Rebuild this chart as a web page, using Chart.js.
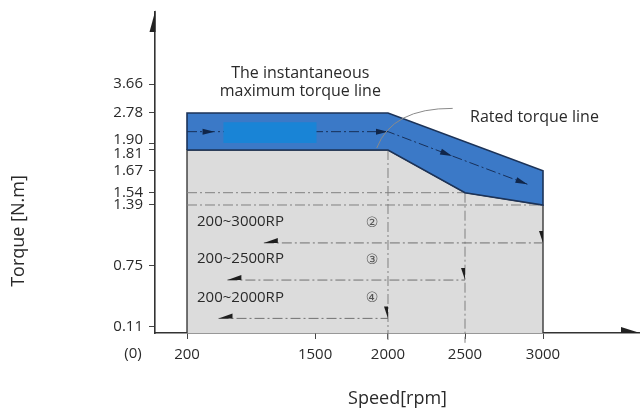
<!DOCTYPE html>
<html>
<head>
<meta charset="utf-8">
<script src="https://cdn.jsdelivr.net/npm/chart.js@4.4.1/dist/chart.umd.min.js"></script>
<style>
  html, body { margin: 0; padding: 0; background: #fff; }
</style>
</head>
<body>
<canvas id="torqueChart" width="640" height="412"></canvas>
<script>
// axis tick labels
const speedTicks = [200, 1500, 2000, 2500, 3000];
const torqueTicks = [0.11, 0.75, 1.39, 1.54, 1.67, 1.81, 1.90, 2.78, 3.66];

// rated torque line (continuous operating area)
const ratedSpeed = [200, 200, 2000, 2500, 3000, 3000];
const ratedTorque = [0, 1.81, 1.81, 1.54, 1.39, 0];

// instantaneous maximum torque line
const peakSpeed = [200, 200, 2000, 3000, 3000];
const peakTorque = [1.81, 2.78, 2.78, 1.67, 1.39];

// flow arrow inside the instantaneous band
const flowSpeed = [200, 480, 2000, 2416, 2900];
const flowTorque = [2.25, 2.25, 2.25, 1.77, 1.59];

// light blue patch over the band
const patchSpeed = [570, 1510];
const patchTorque = [1.93, 2.52];

// speed ranges (arrows run back from the curve)
const rangeTorque = [0.99, 0.6, 0.2];
const rangeStart = [980, 610, 520];
const rangeEnd = [3000, 2500, 2000];
const rangeLabels = ['200~3000RP', '200~2500RP', '200~2000RP'];
const rangeMarks = ['②', '③', '④'];

// the axes are drawn schematic, not to scale: value -> fraction of axis length
const scaleKnots = {
  x: [[0, 0], [200, 0.066], [1500, 0.33], [2000, 0.4804], [2500, 0.6392], [3000, 0.8], [3620, 1]],
  y: [[0, 0], [0.11, 0.0187], [0.75, 0.2097], [1.39, 0.3988], [1.54, 0.4371], [1.67, 0.5056],
      [1.81, 0.5701], [1.90, 0.5888], [2.78, 0.6854], [3.66, 0.7757], [5.84, 1]]
};

function piecewise(pairs, v, from, to) {
  let i = 1;
  while (i < pairs.length - 1 && v > pairs[i][from]) i++;
  const a = pairs[i - 1], b = pairs[i];
  return a[to] + (v - a[from]) * (b[to] - a[to]) / (b[from] - a[from]);
}

class KnotScale extends Chart.LinearScale {
  getPixelForValue(value) {
    if (value === null || isNaN(value)) return NaN;
    return this.getPixelForDecimal(piecewise(scaleKnots[this.id], value, 0, 1));
  }
  getValueForPixel(pixel) {
    return piecewise(scaleKnots[this.id], this.getDecimalForPixel(pixel), 1, 0);
  }
}
KnotScale.id = 'knot';
Chart.register(KnotScale);

const family = '"Open Sans", "Noto Sans", sans-serif';
const ink = '#2a2a2a';
const dashDot = [10, 3, 2, 3];

const pts = (xs, ys) => xs.map((x, i) => ({ x, y: ys[i] }));

const bandSpeed = peakSpeed.concat(ratedSpeed.slice(1, 5).reverse(), [peakSpeed[0]]);
const bandTorque = peakTorque.concat(ratedTorque.slice(1, 5).reverse(), [peakTorque[0]]);

function drawHead(ctx, x, y, ang, len, wid, side, color) {
  ctx.save();
  ctx.translate(x, y);
  ctx.rotate(ang);
  ctx.beginPath();
  ctx.moveTo(0, 0);
  if (side === 0) {
    ctx.lineTo(-len, wid / 2);
    ctx.lineTo(-len, -wid / 2);
  } else {
    ctx.lineTo(-len, 0);
    ctx.lineTo(-len, side * wid);
  }
  ctx.closePath();
  ctx.fillStyle = color;
  ctx.fill();
  ctx.restore();
}

const arrowHeads = {
  id: 'arrowHeads',
  afterDatasetsDraw(chart) {
    const ctx = chart.ctx;
    chart.data.datasets.forEach((ds, i) => {
      if (!ds.arrows) return;
      const p = chart.getDatasetMeta(i).data;
      ds.arrows.forEach(a => {
        const pt = p[a.at];
        let ang = a.angle;
        if (ang === undefined) {
          const q = p[a.at - 1];
          ang = Math.atan2(pt.y - q.y, pt.x - q.x);
        }
        drawHead(ctx, pt.x, pt.y, ang, a.len, a.wid, a.side, ds.headColor);
      });
    });
    const area = chart.chartArea;
    drawHead(ctx, area.left + 0.5, area.top - 2, -Math.PI / 2, 22, 6, -1, '#222');
    drawHead(ctx, area.right, area.bottom, 0, 19, 6, -1, '#222');
  }
};

const notes = {
  id: 'notes',
  afterDraw(chart) {
    const { ctx, scales: { x, y } } = chart;
    ctx.save();
    ctx.fillStyle = ink;
    ctx.textBaseline = 'middle';

    ctx.font = '16px ' + family;
    ctx.textAlign = 'center';
    ctx.fillText('The instantaneous', x.getPixelForValue(1350), y.getPixelForValue(3.99));
    ctx.fillText('maximum torque line', x.getPixelForValue(1350), y.getPixelForValue(3.42));
    ctx.textAlign = 'left';
    ctx.fillText('Rated torque line', x.getPixelForValue(2532), y.getPixelForValue(2.64));

    // leader from the rated torque line label
    ctx.strokeStyle = '#8a8a8a';
    ctx.lineWidth = 1;
    ctx.beginPath();
    ctx.moveTo(x.getPixelForValue(1923), y.getPixelForValue(1.84));
    ctx.quadraticCurveTo(x.getPixelForValue(2026), y.getPixelForValue(2.93),
                         x.getPixelForValue(2420), y.getPixelForValue(2.92));
    ctx.stroke();

    // speed range labels
    ctx.font = '15px ' + family;
    rangeTorque.forEach((t, i) => {
      const py = y.getPixelForValue(t);
      ctx.fillStyle = ink;
      ctx.textAlign = 'left';
      ctx.fillText(rangeLabels[i], x.getPixelForValue(200) + 10, py - 21);
      ctx.fillStyle = '#555';
      ctx.textAlign = 'center';
      ctx.font = '14px "DejaVu Sans", sans-serif';
      ctx.fillText(rangeMarks[i], x.getPixelForValue(2000) - 16, py - 20);
      ctx.font = '15px ' + family;
    });

    ctx.fillStyle = ink;
    ctx.textAlign = 'center';
    ctx.fillText('(0)', x.left - 22, x.top + 21);

    ctx.font = '18px ' + family;
    ctx.translate(19, 231);
    ctx.rotate(-Math.PI / 2);
    ctx.fillText('Torque [N.m]', 0, 0);
    ctx.restore();
  }
};

const rangeSets = rangeTorque.map((t, i) => ({
  data: pts([rangeStart[i], rangeEnd[i]], [t, t]),
  borderColor: '#707070',
  borderWidth: 1,
  borderDash: dashDot,
  headColor: '#1e1e1e',
  arrows: [
    { at: 0, angle: Math.PI, len: 14, wid: 5, side: 1 },
    { at: 1, angle: Math.PI / 2, len: 12, wid: 4, side: 1 }
  ],
  order: 5
}));

const guide = (xs, ys) => ({
  data: pts(xs, ys),
  borderColor: '#808080',
  borderWidth: 1,
  borderDash: dashDot,
  clip: false,
  order: 9
});

new Chart(document.getElementById('torqueChart'), {
  type: 'line',
  data: {
    datasets: [
      {
        data: pts(ratedSpeed, ratedTorque),
        fill: 'shape',
        backgroundColor: '#dcdcdc',
        borderColor: '#3a3a3a',
        borderWidth: 1.4,
        order: 10
      },
      guide([200, 2500], [1.54, 1.54]),
      guide([200, 3000], [1.39, 1.39]),
      guide([2000, 2000], [1.81, -0.18]),
      guide([2500, 2500], [1.54, -0.18]),
      {
        data: pts(bandSpeed, bandTorque),
        fill: 'shape',
        backgroundColor: '#3b79c7',
        borderColor: '#1c3358',
        borderWidth: 1.6,
        order: 8
      },
      {
        data: pts(flowSpeed, flowTorque),
        borderColor: '#17305a',
        borderWidth: 1,
        borderDash: dashDot,
        headColor: '#10264a',
        arrows: [
          { at: 1, len: 12, wid: 6, side: 0 },
          { at: 2, len: 12, wid: 6, side: 0 },
          { at: 3, len: 12, wid: 6, side: 0 },
          { at: 4, len: 12, wid: 6, side: 0 }
        ],
        order: 7
      },
      {
        data: pts([patchSpeed[0], patchSpeed[0], patchSpeed[1], patchSpeed[1]],
                  [patchTorque[0], patchTorque[1], patchTorque[1], patchTorque[0]]),
        fill: 'shape',
        backgroundColor: '#1984d6',
        borderWidth: 0,
        order: 6
      },
      ...rangeSets
    ]
  },
  options: {
    responsive: false,
    animation: false,
    events: [],
    layout: { padding: { top: 12, right: 0, bottom: 0, left: 0 } },
    elements: { point: { radius: 0 }, line: { tension: 0 } },
    plugins: { legend: { display: false }, tooltip: { enabled: false } },
    scales: {
      x: {
        type: 'knot',
        min: 0,
        max: 3620,
        bounds: 'data',
        afterBuildTicks: s => { s.ticks = speedTicks.map(v => ({ value: v })); },
        afterFit: s => { s.height = 79; s.paddingLeft = 0; s.paddingRight = 0; },
        grid: { drawOnChartArea: false, tickLength: 6, color: '#444' },
        border: { color: '#333', width: 1.6 },
        ticks: {
          color: ink, padding: 7, autoSkip: false, maxRotation: 0,
          font: { family, size: 15 },
          callback: v => String(v)
        },
        title: {
          display: true, text: 'Speed[rpm]', color: ink,
          font: { family, size: 18 }, padding: { top: 0, bottom: 2 }
        }
      },
      y: {
        type: 'knot',
        min: 0,
        max: 5.84,
        bounds: 'data',
        afterBuildTicks: s => { s.ticks = torqueTicks.map(v => ({ value: v })); },
        afterFit: s => { s.width = 155; s.paddingTop = 0; s.paddingBottom = 0; },
        grid: { drawOnChartArea: false, tickLength: 6, color: '#444' },
        border: { color: '#333', width: 1.6 },
        ticks: {
          color: ink, padding: 6, autoSkip: false,
          // 1.90 and 1.81 sit close together, nudge them apart
          font: c => ({
            family, size: 15,
            lineHeight: c.tick && (c.tick.value === 1.9 || c.tick.value === 1.81) ? '8px' : 1.2
          }),
          callback: v => v === 1.9 ? ['1.90', ''] : v === 1.81 ? ['', '1.81'] : v.toFixed(2)
        }
      }
    }
  },
  plugins: [arrowHeads, notes]
});
</script>
</body>
</html>
